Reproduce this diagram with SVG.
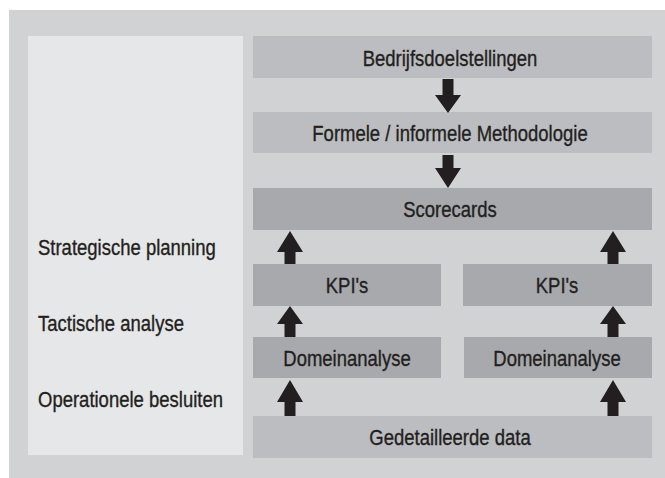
<svg xmlns="http://www.w3.org/2000/svg" width="665" height="478" viewBox="0 0 665 478">
<style>
.bg{fill:#d1d2d4}
.panel{fill:#e6e7e8}
.lt{fill:#bcbdc0}
.dk{fill:#a7a9ac}
.t{font-family:"Liberation Sans",Arial,sans-serif;font-size:21.5px;fill:#231f20;stroke:#231f20;stroke-width:0.35}
.c{text-anchor:middle}
.arr{fill:#231f20}
</style>
<rect class="bg" x="9" y="10" width="656" height="468"/>
<rect class="panel" x="28" y="36" width="215" height="419"/>
<g id="labels">
<text class="t" transform="translate(38,255) scale(0.86,1)">Strategische planning</text>
<text class="t" transform="translate(38,331) scale(0.86,1)">Tactische analyse</text>
<text class="t" transform="translate(38,406.5) scale(0.86,1)">Operationele besluiten</text>
</g>
<g id="bedrijfsdoelstellingen"><rect class="lt" x="253" y="36" width="399" height="42"/><text class="t c" transform="translate(450,65.5) scale(0.86,1)">Bedrijfsdoelstellingen</text></g>
<g id="methodologie"><rect class="lt" x="253" y="112" width="399" height="41"/><text class="t c" transform="translate(450,141) scale(0.86,1)">Formele / informele Methodologie</text></g>
<g id="scorecards"><rect class="dk" x="253" y="188" width="399" height="42"/><text class="t c" transform="translate(450,217) scale(0.86,1)">Scorecards</text></g>
<g id="kpi1"><rect class="dk" x="253" y="264" width="188" height="42"/><text class="t c" transform="translate(347,293) scale(0.86,1)">KPI's</text></g>
<g id="kpi2"><rect class="dk" x="463" y="264" width="189" height="42"/><text class="t c" transform="translate(557,293) scale(0.86,1)">KPI's</text></g>
<g id="domein1"><rect class="dk" x="253" y="337" width="188" height="41"/><text class="t c" transform="translate(347,366) scale(0.86,1)">Domeinanalyse</text></g>
<g id="domein2"><rect class="dk" x="464" y="337" width="188" height="41"/><text class="t c" transform="translate(557,366) scale(0.86,1)">Domeinanalyse</text></g>
<g id="data"><rect class="lt" x="253" y="416" width="399" height="42"/><text class="t c" transform="translate(450,445) scale(0.86,1)">Gedetailleerde data</text></g>
<g id="connectors" class="arr">
<polygon points="442.5,79 453.5,79 453.5,95 461,95 448,113 435,95 442.5,95"/>
<polygon points="442.5,155 453.5,155 453.5,168 461,168 448,188 435,168 442.5,168"/>
<polygon points="284.5,264 295.5,264 295.5,252 303,252 290,231 277,252 284.5,252"/>
<polygon points="607.5,264 618.5,264 618.5,252 626,252 613,231 600,252 607.5,252"/>
<polygon points="284.5,337 295.5,337 295.5,324 303,324 290,306 277,324 284.5,324"/>
<polygon points="607.5,337 618.5,337 618.5,324 626,324 613,306 600,324 607.5,324"/>
<polygon points="284.5,416 295.5,416 295.5,402 303,402 290,380 277,402 284.5,402"/>
<polygon points="607.5,416 618.5,416 618.5,402 626,402 613,380 600,402 607.5,402"/>
</g>
</svg>
